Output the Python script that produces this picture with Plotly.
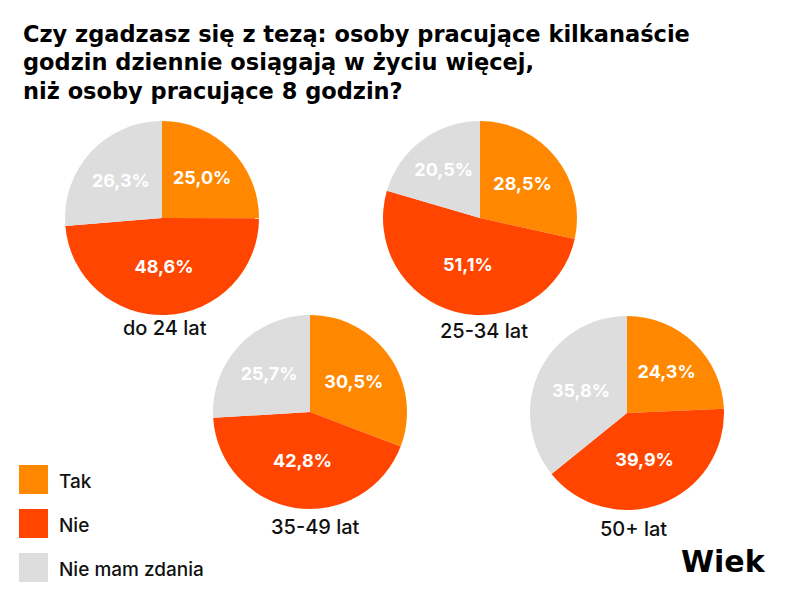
import plotly.graph_objects as go

# ---- data ----
categories = ["Tak", "Nie", "Nie mam zdania"]
colors = ["#FF8800", "#FF4500", "#DDDDDD"]
groups = ["do 24 lat", "25-34 lat", "35-49 lat", "50+ lat"]
tak = [25.0, 28.5, 30.5, 24.3]
nie = [48.6, 51.1, 42.8, 39.9]
brak = [26.3, 20.5, 25.7, 35.8]

title_lines = ["Czy zgadzasz się z tezą: osoby pracujące kilkanaście",
               "godzin dziennie osiągają w życiu więcej,",
               "niż osoby pracujące 8 godzin?"]
axis_label = "Wiek"

W, H = 800, 600
OFF = 8  # page body margin compensation


def px(x):
    return (x - OFF) / W


def py(y):
    return 1 - (y - OFF) / H


# pie geometry in pixels: (center x, center y, radius)
geom = [(162, 218, 97), (480, 218, 97), (310, 412, 97), (627, 413, 97)]
label_pos = [(165, 328), (484, 331), (315, 527), (633, 529)]

fig = go.Figure()
annotations = []
for i, g in enumerate(groups):
    cx, cy, r = geom[i]
    vals = [tak[i], nie[i], brak[i]]
    fig.add_trace(go.Pie(
        labels=categories,
        values=vals,
        marker=dict(colors=colors, line=dict(width=0)),
        sort=False,
        direction="clockwise",
        rotation=0,
        texttemplate="%{value:.1f}%",
        textposition="inside",
        insidetextorientation="horizontal",
        textfont=dict(family="Inter", size=18, color="white", weight=700),
        domain=dict(x=[px(cx - r), px(cx + r)], y=[py(cy + r), py(cy - r)]),
        showlegend=False,
        hoverinfo="label+value",
    ))
    lx, ly = label_pos[i]
    annotations.append(dict(text=g, xref="paper", yref="paper", x=px(lx), y=py(ly),
                            xanchor="center", yanchor="middle", showarrow=False,
                            font=dict(family="Inter", size=20, color="#111111", weight=500)))

shapes = []
for k, (c, col) in enumerate(zip(categories, colors)):
    y0 = 465 + k * 44
    shapes.append(dict(type="rect", xref="paper", yref="paper",
                       x0=px(19), x1=px(48), y0=py(y0 + 29), y1=py(y0),
                       fillcolor=col, line=dict(width=0)))
    annotations.append(dict(text=c, xref="paper", yref="paper",
                            x=px(57), y=py(y0 + 16), xanchor="left", yanchor="middle",
                            showarrow=False,
                            font=dict(family="Inter", size=19, color="#111111", weight=500)))

for j, line in enumerate(title_lines):
    annotations.append(dict(text=line, xref="paper", yref="paper",
                            x=px(21), y=py(34 + 28.5 * j), xanchor="left", yanchor="middle",
                            showarrow=False,
                            font=dict(family="DejaVu Sans", size=22.5, color="#000000", weight=700)))

annotations.append(dict(text=axis_label, xref="paper", yref="paper",
                        x=px(768), y=py(561), xanchor="right", yanchor="middle",
                        showarrow=False,
                        font=dict(family="DejaVu Sans", size=30, color="#000000", weight=700)))

fig.update_layout(
    width=W, height=H,
    margin=dict(l=0, r=0, t=0, b=0),
    paper_bgcolor="white",
    plot_bgcolor="white",
    separators=", ",
    shapes=shapes,
    annotations=annotations,
)

fig.write_html("out.html")
